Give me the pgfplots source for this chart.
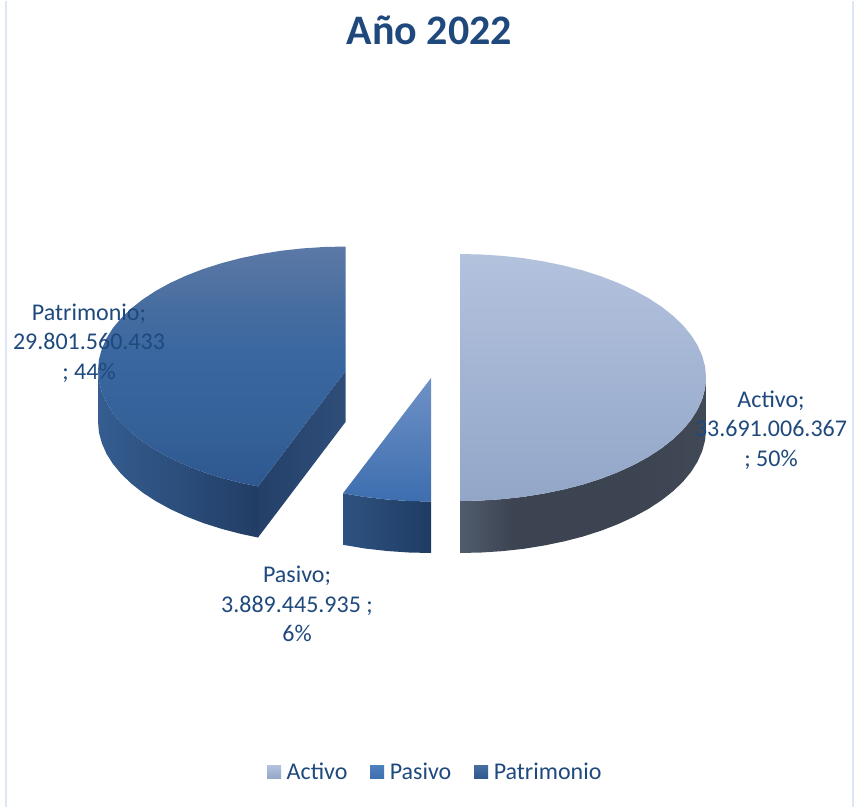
\documentclass[border=0pt]{standalone}
\usepackage{fontspec}
\setmainfont{Carlito}
\usepackage{pgfplots}
\pgfplotsset{compat=1.18}

\definecolor{txt}{RGB}{31,73,125}
\definecolor{frameline}{RGB}{220,230,245}
\definecolor{acTop}{RGB}{179,194,221}
\definecolor{acMid}{RGB}{165,183,215}
\definecolor{acBot}{RGB}{146,166,200}
\definecolor{paTop}{RGB}{111,145,198}
\definecolor{paMid}{RGB}{79,129,189}
\definecolor{paBot}{RGB}{61,110,175}
\definecolor{peTop}{RGB}{92,121,166}
\definecolor{peA}{RGB}{72,110,160}
\definecolor{peMid}{RGB}{58,103,160}
\definecolor{peB}{RGB}{52,97,152}
\definecolor{peBot}{RGB}{46,88,143}

\definecolor{acW1}{RGB}{80,92,109}
\definecolor{acW2}{RGB}{60,67,81}
\definecolor{acW3}{RGB}{65,73,87}
\definecolor{paW1}{RGB}{46,82,128}
\definecolor{paW2}{RGB}{31,60,99}
\definecolor{peW1}{RGB}{53,93,144}
\definecolor{peW2}{RGB}{43,78,123}
\definecolor{peW3}{RGB}{33,61,101}
\definecolor{inW1}{RGB}{36,64,105}
\definecolor{inW2}{RGB}{46,78,121}

\pgfdeclarehorizontalshading{acwall}{100bp}{color(0bp)=(acW1); color(25bp)=(acW1); color(36bp)=(acW2); color(60bp)=(acW2); color(75bp)=(acW3); color(100bp)=(acW3)}
\pgfdeclarehorizontalshading{pawall}{100bp}{color(0bp)=(paW1); color(25bp)=(paW1); color(75bp)=(paW2); color(100bp)=(paW2)}
\pgfdeclarehorizontalshading{pewall}{100bp}{color(0bp)=(peW1); color(25bp)=(peW1); color(50bp)=(peW2); color(75bp)=(peW3); color(100bp)=(peW3)}
\pgfdeclarehorizontalshading{inwall}{100bp}{color(0bp)=(inW1); color(25bp)=(inW1); color(75bp)=(inW2); color(100bp)=(inW2)}
\pgfdeclareverticalshading{petop}{100bp}{color(0bp)=(peBot); color(25bp)=(peBot); color(37bp)=(peB); color(53bp)=(peMid); color(63bp)=(peA); color(75bp)=(peTop); color(100bp)=(peTop)}

\pgfplotsset{
  slice/.style={forget plot, draw=none, mark=none},
}
\tikzset{
  lbl/.style={font=\fontsize{18}{22}\selectfont, text=txt, align=center, inner sep=0pt},
}

\begin{document}
\begin{tikzpicture}
\begin{axis}[
  hide axis,
  scale only axis,
  width=640.5pt, height=604.5pt,
  xmin=0, xmax=854, ymin=0, ymax=806,
  y dir=reverse,
  clip=false,
  legend columns=-1,
  legend cell align=left,
  legend style={draw=none, fill=none, at={(axis cs:267,771)}, anchor=west,
    font=\fontsize{18}{22}\selectfont, text=txt, inner sep=0pt, outer sep=0pt,
    /tikz/every even column/.style={column sep=15pt}},
]
% page extent, hide axis does not count the axis box
\addplot[slice] coordinates {(0,0)(854,0)(854,806)(0,806)} --cycle;

% frame
\addplot[slice, draw=frameline, line width=1.5pt] coordinates {(5.5,0)(5.5,806)};
\addplot[slice, draw=frameline, line width=1.5pt] coordinates {(852.8,0)(852.8,806)};

% Activo
\addplot[slice, shading=acwall] coordinates {
  (706,376.5)(705.1,387.3)(702.3,397.9)(697.6,408.5)(691.2,418.7)(683,428.7)(673,438.25)(661.5,447.3)(648.4,455.9)(633.9,463.8)
  (618.1,471.1)(601.1,477.7)(583,483.5)(564,488.4)(544.1,492.5)(523.7,495.8)(502.7,498.1)(481.5,499.5)(460,500)
  (460,552)(481.5,551.5)(502.7,550.1)(523.7,547.8)(544.1,544.5)(564,540.4)(583,535.5)(601.1,529.7)(618.1,523.1)(633.9,515.8)
  (648.4,507.9)(661.5,499.3)(673,490.25)(683,480.7)(691.2,470.7)(697.6,460.5)(702.3,449.9)(705.1,439.3)(706,428.5)
} --cycle;
\addplot[slice, shade, top color=acTop, middle color=acMid, bottom color=acBot] coordinates {
  (460,253)(481.5,253.5)(502.7,254.9)(523.7,257.2)(544.1,260.5)(564,264.6)(583,269.5)(601.1,275.3)(618.1,281.9)(633.9,289.2)
  (648.4,297.1)(661.5,305.7)(673,314.75)(683,324.3)(691.2,334.3)(697.6,344.5)(702.3,355.1)(705.1,365.7)(706,376.5)
  (705.1,387.3)(702.3,397.9)(697.6,408.5)(691.2,418.7)(683,428.7)(673,438.25)(661.5,447.3)(648.4,455.9)(633.9,463.8)
  (618.1,471.1)(601.1,477.7)(583,483.5)(564,488.4)(544.1,492.5)(523.7,495.8)(502.7,498.1)(481.5,499.5)(460,500)
} --cycle;

% Pasivo
\addplot[slice, shading=pawall] coordinates {
  (343,492.3)(365,496)(387,498.5)(409,500)(431,500.5)(431,552)(409,551.5)(387,550)(365,547.5)(343,543.8)
} --cycle;
\addplot[slice, shade, top color=paTop, middle color=paMid, bottom color=paBot] coordinates {
  (431,377)(343,492.3)(365,496)(387,498.5)(409,500)(431,500.5)
} --cycle;

% Patrimonio
\addplot[slice, shading=pewall] coordinates {
  (98,369.5)(98.9,380.3)(101.8,391)(106.4,401.6)(112.9,411.9)(121.2,421.9)(131.2,431.5)(142.7,440.6)(155.9,449.2)
  (170.5,457.2)(186.4,464.5)(203.5,471.1)(221.75,476.9)(240.9,481.9)(258,485.5)
  (258,536.5)(240.9,532.9)(221.75,527.9)(203.5,522.1)(186.4,515.5)(170.5,508.2)(155.9,500.2)(142.7,491.6)
  (131.2,482.5)(121.2,472.9)(112.9,462.9)(106.4,452.6)(101.8,442)(98.9,431.3)(98,420.5)
} --cycle;
\addplot[slice, shading=inwall] coordinates {
  (345.5,370)(258,485.5)(258,536.5)(345.5,421)
} --cycle;
\addplot[slice, shading=petop] coordinates {
  (345.5,245.5)(323.9,246)(302.5,247.4)(281.4,249.7)(260.9,253)(240.9,257.1)(221.75,262.1)(203.5,267.9)(186.4,274.5)
  (170.5,281.8)(155.9,289.8)(142.7,298.4)(131.2,307.5)(121.2,317.1)(112.9,327.1)(106.4,337.4)(101.8,348)(98.9,358.7)(98,369.5)
  (98.9,380.3)(101.8,391)(106.4,401.6)(112.9,411.9)(121.2,421.9)(131.2,431.5)(142.7,440.6)(155.9,449.2)
  (170.5,457.2)(186.4,464.5)(203.5,471.1)(221.75,476.9)(240.9,481.9)(258,485.5)(345.5,370)
} --cycle;

% legend
\addlegendimage{legend image code/.code={\path[draw=none, shade, top color=acTop, bottom color=acBot] (0pt,-5.2pt) rectangle (10.5pt,5.2pt); \path[draw=none] (12.8pt,0pt);}}
\addlegendentry{Activo}
\addlegendimage{legend image code/.code={\path[draw=none, shade, top color=paMid, bottom color=paBot] (0pt,-5.2pt) rectangle (10.5pt,5.2pt); \path[draw=none] (12.8pt,0pt);}}
\addlegendentry{Pasivo}
\addlegendimage{legend image code/.code={\path[draw=none, shade, top color=peA, bottom color=peBot] (0pt,-5.2pt) rectangle (10.5pt,5.2pt); \path[draw=none] (12.8pt,0pt);}}
\addlegendentry{Patrimonio}

% texts
\node[font=\fontsize{31.5}{36}\selectfont\bfseries, text=txt, inner sep=0pt] at (axis cs:429.5,29) {Año 2022};
\node[lbl] at (axis cs:89,342) {Patrimonio;\\29.801.560.433\\; 44\%};
\node[lbl] at (axis cs:771,429) {Activo;\\33.691.006.367\\; 50\%};
\node[lbl] at (axis cs:297,603) {Pasivo;\\3.889.445.935 ;\\6\%};
\end{axis}
\end{tikzpicture}
\end{document}
